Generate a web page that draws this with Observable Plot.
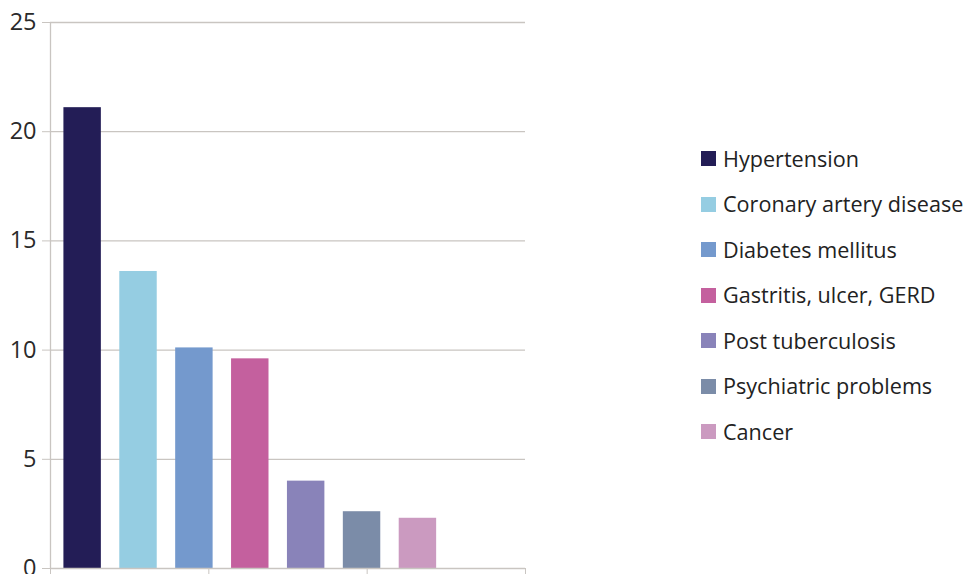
<!DOCTYPE html>
<html>
<head>
<meta charset="utf-8">
<script src="https://cdn.jsdelivr.net/npm/d3@7"></script>
<script src="https://cdn.jsdelivr.net/npm/@observablehq/plot@0.6"></script>
<style>
  html, body { margin: 0; padding: 0; background: #fff; }
  #wrap { position: relative; width: 968px; height: 574px; overflow: hidden; font-family: "Open Sans", sans-serif; }
  #legend { position: absolute; left: 701px; top: 136px; }
  .row { display: flex; align-items: center; height: 45.5px; margin: 0; }
  .sw { width: 15px; height: 15px; margin-right: 7px; flex: none; }
  .lab { font-size: 21.6px; color: #222; white-space: nowrap; line-height: 1; }
</style>
</head>
<body>
<div id="wrap"><div id="legend"></div></div>
<script>
const categories = ["Hypertension", "Coronary artery disease", "Diabetes mellitus", "Gastritis, ulcer, GERD", "Post tuberculosis", "Psychiatric problems", "Cancer"];
const values = [21.1, 13.6, 10.1, 9.6, 4.0, 2.6, 2.3];
const colors = ["#231d56", "#95cde2", "#7499cd", "#c4609e", "#8983b9", "#7b8ca8", "#cb9ac0"];
const yTicks = [0, 5, 10, 15, 20, 25];

const data = categories.map((c, i) => ({name: c, value: values[i], i}));
const slots = 8.5;

const chart = Plot.plot({
  width: 968,
  height: 574,
  marginLeft: 50,
  marginRight: 443,
  marginTop: 22,
  marginBottom: 6,
  style: {fontFamily: "Open Sans, sans-serif", background: "transparent"},
  x: {domain: [0, slots]},
  y: {domain: [0, 25]},
  color: {domain: categories, range: colors},
  marks: [
    Plot.gridY(yTicks.filter(t => t > 0), {stroke: "#c9c5c1", strokeOpacity: 1, strokeWidth: 1.3}),
    Plot.rectY(data, {x1: d => d.i + 0.24, x2: d => d.i + 0.91, y: "value", fill: "name"}),
    Plot.ruleY([0], {stroke: "#c9c5c1", strokeWidth: 1.3}),
    Plot.ruleX([0], {stroke: "#c9c5c1", strokeWidth: 1.3}),
    Plot.axisY({ticks: yTicks, tickSize: 8, tickPadding: 6, fontSize: 23.5, stroke: "#c9c5c1", fill: "#2a2a2a", label: null}),
    Plot.axisX({ticks: [0, slots/3, 2*slots/3, slots], tickSize: 6, tickFormat: () => "", stroke: "#c9c5c1", label: null})
  ]
});
document.getElementById("wrap").prepend(chart);

const legend = document.getElementById("legend");
categories.forEach((c, i) => {
  const row = document.createElement("div");
  row.className = "row";
  row.innerHTML = `<div class="sw" style="background:${colors[i]}"></div><div class="lab"></div>`;
  row.querySelector(".lab").textContent = c;
  legend.appendChild(row);
});
</script>
</body>
</html>
